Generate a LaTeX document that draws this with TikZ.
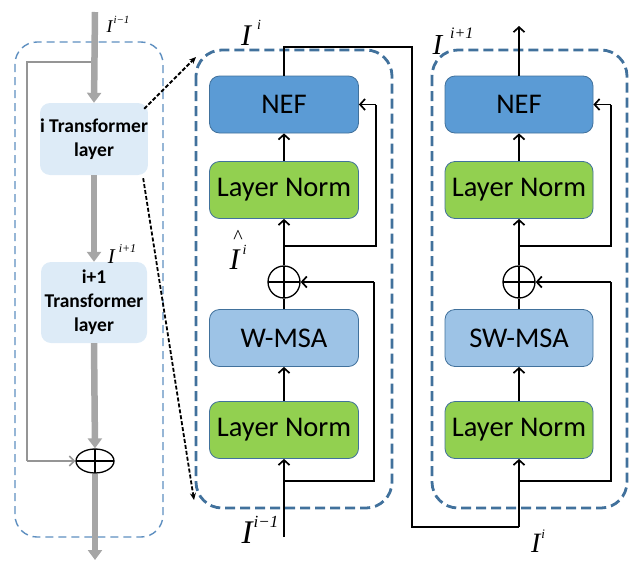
\documentclass[tikz,border=0pt]{standalone}
\usepackage{fontspec}
\setmainfont{Carlito}
\newfontfamily\tms{Liberation Serif}
\usetikzlibrary{arrows.meta,shapes.geometric}
\definecolor{nefc}{HTML}{5B9BD5}
\definecolor{lnc}{HTML}{92D050}
\definecolor{msac}{HTML}{9DC3E6}
\definecolor{tlc}{HTML}{DDEBF7}
\definecolor{bordc}{HTML}{41719C}
\definecolor{dashc}{HTML}{41719C}
\definecolor{ldashc}{HTML}{5E8FC0}
\definecolor{grayc}{HTML}{A6A6A6}
\newcommand{\Ilab}[5]{{\tms\itshape\fontsize{#1}{#1}\selectfont I\hspace{#3}\raisebox{#4}{\fontsize{#2}{#2}\selectfont #5}}}
\begin{document}
\begin{tikzpicture}[x=1pt,y=-1pt,
  blk/.style={rounded corners=10pt, draw=bordc, line width=0.8pt, minimum width=149pt, minimum height=57pt, inner sep=0pt, font=\fontsize{28.5}{32}\selectfont},
  nefbox/.style={blk, fill=nefc},
  lnbox/.style={blk, fill=lnc},
  msabox/.style={blk, fill=msac},
  tlbox/.style={rounded corners=10pt, fill=tlc, minimum width=106pt, inner sep=0pt, align=center, font=\bfseries\fontsize{19.5}{24}\selectfont},
  opl/.style={circle, draw, line width=1.3pt, minimum size=32pt, inner sep=0pt,
    path picture={\draw[line width=1.3pt] (path picture bounding box.north) -- (path picture bounding box.south) (path picture bounding box.west) -- (path picture bounding box.east);}},
  lopl/.style={ellipse, draw, line width=1.3pt, minimum width=38pt, minimum height=24pt, inner sep=0pt,
    path picture={\draw[line width=1.3pt] (path picture bounding box.north) -- (path picture bounding box.south) (path picture bounding box.west) -- (path picture bounding box.east);}},
  conn/.style={line width=1.7pt, -{Straight Barb[length=5pt,width=11pt,line width=1.7pt]}},
  plain/.style={line width=1.7pt},
  garr/.style={draw=grayc, line width=6.5pt, -{Triangle[length=10pt,width=14pt]}},
  gthin/.style={draw=grayc!90!black, line width=1.5pt},
  darr/.style={line width=1.8pt, dash pattern=on 4pt off 2pt, -{Stealth[length=7pt,width=6pt]}},
  panel/.style={draw=dashc, line width=2.8pt, dash pattern=on 10pt off 5pt, rounded corners=26pt},
  lpanel/.style={draw=ldashc, line width=1.4pt, dash pattern=on 8pt off 5pt, rounded corners=22pt}
]
\useasboundingbox (0,0) rectangle (632,560);
% panels
\draw[lpanel] (15,42) rectangle (163,537);
\draw[panel] (196,50) rectangle (392,508);
\draw[panel] (432,50) rectangle (627,508);

% left panel
\node[tlbox, minimum height=72pt] (t1) at (94,139) {i Transformer\\layer};
\node[tlbox, minimum height=81pt] (t2) at (94,302.5) {i+1\\Transformer\\layer};
\node[lopl] (lop) at (95,461) {};
\coordinate (gtop) at (95,12);
\coordinate (gbot) at (95,560);
\coordinate (gsk) at (95,62);
\coordinate (gsk1) at (27,62);
\coordinate (gsk2) at (27,461);
\draw[gthin] (gsk) -- (gsk1) -- (gsk2);
\draw[gthin, -{Straight Barb[length=5pt,width=10pt,line width=1.5pt]}] (gsk2) -- (lop.west);
\draw[garr] (gtop) -- (t1.north);
\draw[garr] (t1.south) -- (t2.north);
\draw[garr] (t2.south) -- (lop.north);
\draw[garr] (lop.south) -- (gbot);

\node at (118,24) {\Ilab{18}{11}{1pt}{0.5em}{i−1}};
\node at (122,254) {\Ilab{21}{12}{4pt}{0.5em}{i+1}};

% middle panel
\node[nefbox] (nef1) at (284,104.5) {NEF};
\node[lnbox] (ln1) at (284,190) {Layer Norm};
\node[opl] (op1) at (284,282) {};
\node[msabox] (msa1) at (284,338) {W-MSA};
\node[lnbox] (ln2) at (284,430) {Layer Norm};

\coordinate (in1) at (284,537);
\coordinate (s1a) at (284,481);
\coordinate (s1b) at (374,481);
\coordinate (s1c) at (374,282);
\coordinate (s2a) at (284,246);
\coordinate (s2b) at (376,246);
\coordinate (s2c) at (376,104.5);
\coordinate (o1a) at (284,47);
\coordinate (o1b) at (412,47);
\coordinate (o1c) at (412,527);
\coordinate (o1d) at (519,527);

\draw[conn] (in1) -- (ln2.south);
\draw[conn] (ln2.north) -- (msa1.south);
\draw[plain] (msa1.north) -- (op1.south);
\draw[conn] (op1.north) -- (ln1.south);
\draw[conn] (ln1.north) -- (nef1.south);
\draw[plain] (s1a) -- (s1b) -- (s1c);
\draw[conn] (s1c) -- (op1.east);
\draw[plain] (s2a) -- (s2b) -- (s2c);
\draw[conn] (s2c) -- (nef1.east);
\draw[plain, line join=miter] (nef1.north) -- (o1a) -- (o1b) -- (o1c) -- (o1d);

% right panel
\node[nefbox, minimum width=148pt] (nef2) at (519,104.5) {NEF};
\node[lnbox, minimum width=148pt] (ln3) at (519,190) {Layer Norm};
\node[opl] (op2) at (519,282) {};
\node[msabox, minimum width=148pt] (msa2) at (519,338) {SW-MSA};
\node[lnbox, minimum width=148pt] (ln4) at (519,430) {Layer Norm};

\coordinate (r1a) at (519,481);
\coordinate (r1b) at (611,481);
\coordinate (r1c) at (611,282);
\coordinate (r2a) at (519,246);
\coordinate (r2b) at (611,246);
\coordinate (r2c) at (611,104.5);
\coordinate (out) at (519,26);

\draw[conn] (o1d) -- (ln4.south);
\draw[conn] (ln4.north) -- (msa2.south);
\draw[plain] (msa2.north) -- (op2.south);
\draw[conn] (op2.north) -- (ln3.south);
\draw[conn] (ln3.north) -- (nef2.south);
\draw[plain] (r1a) -- (r1b) -- (r1c);
\draw[conn] (r1c) -- (op2.east);
\draw[plain] (r2a) -- (r2b) -- (r2c);
\draw[conn] (r2c) -- (nef2.east);
\draw[conn] (nef2.north) -- (out);

% dashed zoom arrows
\coordinate (z1) at (196,57);
\coordinate (z2) at (194,500);
\draw[darr] (t1.north east) ++(-4,6) coordinate (t1a) -- (z1);
\draw[darr] (t1.south east) ++(-5,3) coordinate (t1b) -- (z2);

% labels
\node at (251,33) {\Ilab{30}{14}{6pt}{0.55em}{i}};
\node at (238,250) {{\tms\itshape\fontsize{30}{30}\selectfont\rlap{\hspace{0.13em}\raisebox{0.88em}{\upshape\fontsize{20}{20}\selectfont\textasciicircum}}I\hspace{3pt}\raisebox{0.5em}{\fontsize{14}{14}\selectfont i}}};
\node at (260,530) {\Ilab{33}{17}{1pt}{0.5em}{i−1}};
\node at (453,41) {\Ilab{29}{16}{8pt}{0.55em}{i+1}};
\node at (538,541) {\Ilab{28}{13}{1pt}{0.5em}{i}};
\end{tikzpicture}
\end{document}
